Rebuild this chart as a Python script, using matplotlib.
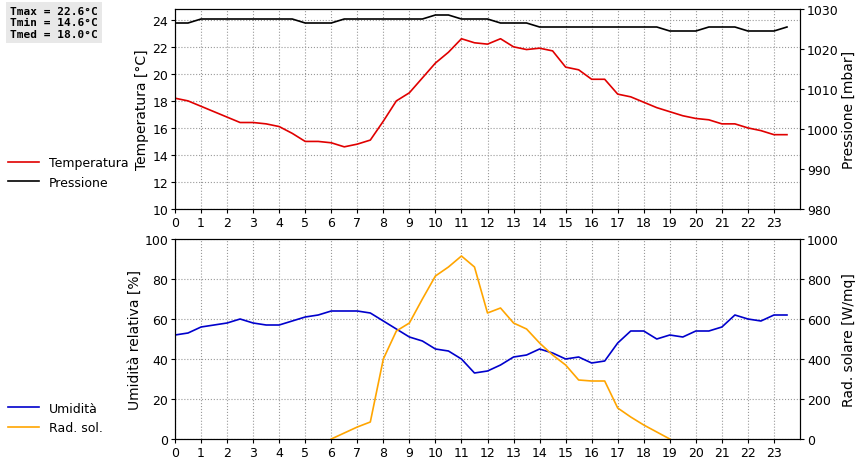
import matplotlib.pyplot as plt
import numpy as np

hours = np.arange(0, 24, 0.5)

temperatura = [18.2, 18.0, 17.6, 17.2, 16.8, 16.4, 16.4, 16.3, 16.1, 15.6, 15.0, 15.0,
               14.9, 14.6, 14.8, 15.1, 16.5, 18.0, 18.6, 19.7, 20.8, 21.6, 22.6, 22.3,
               22.2, 22.6, 22.0, 21.8, 21.9, 21.7, 20.5, 20.3, 19.6, 19.6, 18.5, 18.3,
               17.9, 17.5, 17.2, 16.9, 16.7, 16.6, 16.3, 16.3, 16.0, 15.8, 15.5, 15.5]

pressione = [1026.5, 1026.5, 1027.5, 1027.5, 1027.5, 1027.5, 1027.5, 1027.5, 1027.5, 1027.5,
             1026.5, 1026.5, 1026.5, 1027.5, 1027.5, 1027.5, 1027.5, 1027.5, 1027.5, 1027.5,
             1028.5, 1028.5, 1027.5, 1027.5, 1027.5, 1026.5, 1026.5, 1026.5, 1025.5, 1025.5,
             1025.5, 1025.5, 1025.5, 1025.5, 1025.5, 1025.5, 1025.5, 1025.5, 1024.5, 1024.5,
             1024.5, 1025.5, 1025.5, 1025.5, 1024.5, 1024.5, 1024.5, 1025.5]

umidita = [52, 53, 56, 57, 58, 60, 58, 57, 57, 59, 61, 62,
           64, 64, 64, 63, 59, 55, 51, 49, 45, 44, 40, 33,
           34, 37, 41, 42, 45, 43, 40, 41, 38, 39, 48, 54,
           54, 50, 52, 51, 54, 54, 56, 62, 60, 59, 62, 62]

nan = np.nan
rad_sol = [nan] * 12 + [0, 30, 60, 85, 400, 540, 580, 700, 815, 860, 915, 860,
                        630, 655, 580, 550, 480, 420, 370, 295, 290, 290, 155, 110,
                        70, 35, 0] + [nan] * 9

fig = plt.figure(figsize=(8.6, 4.6), dpi=100)
ax1 = fig.add_axes([175 / 860, 1 - 210 / 460, 625 / 860, 200 / 460])
ax2 = fig.add_axes([175 / 860, 1 - 440 / 460, 625 / 860, 200 / 460])

for ax in (ax1, ax2):
    ax.set_xlim(0, 24)
    ax.set_xticks(range(24))
    ax.grid(True, linestyle=":", color="#999999", linewidth=0.8)

l1, = ax1.plot(hours, temperatura, color="#e00000", lw=1.2, label="Temperatura")
ax1.set_ylim(10, 24.8)
ax1.set_yticks(range(10, 25, 2))
ax1.set_ylabel("Temperatura [°C]", fontsize=10, labelpad=2)
ax1r = ax1.twinx()
l2, = ax1r.plot(hours, pressione, color="black", lw=1.2, label="Pressione")
ax1r.set_ylim(980, 1030)
ax1r.set_yticks(range(980, 1031, 10))
ax1r.set_ylabel("Pressione [mbar]", fontsize=10, labelpad=2)

l3, = ax2.plot(hours, umidita, color="#0000cc", lw=1.2, label="Umidità")
ax2.set_ylim(0, 100)
ax2.set_ylabel("Umidità relativa [%]", fontsize=10, labelpad=2)
ax2r = ax2.twinx()
l4, = ax2r.plot(hours, rad_sol, color="orange", lw=1.2, label="Rad. sol.")
ax2r.set_ylim(0, 1000)
ax2r.set_ylabel("Rad. solare [W/mq]", fontsize=10, labelpad=2)

for ax in (ax1, ax2, ax1r, ax2r):
    ax.tick_params(labelsize=9, direction="out", length=3, pad=2)

fig.legend(handles=[l1, l2], loc="upper left", bbox_to_anchor=(0, 1 - 150 / 460),
           frameon=False, fontsize=9, handlelength=2.5, borderaxespad=0.2)
fig.legend(handles=[l3, l4], loc="upper left", bbox_to_anchor=(0, 1 - 432 / 460 + 0.08),
           frameon=False, fontsize=9, handlelength=2.5, borderaxespad=0.2)

t = np.array(temperatura)
fig.text(0.012, 0.985, f"Tmax = {t.max():.1f}°C\nTmin = {t.min():.1f}°C\nTmed = 18.0°C",
         family="DejaVu Sans Mono", weight="bold", fontsize=8, va="top",
         bbox=dict(facecolor="#e8e8e8", edgecolor="none", pad=3))

fig.savefig("out.png", dpi=100)
